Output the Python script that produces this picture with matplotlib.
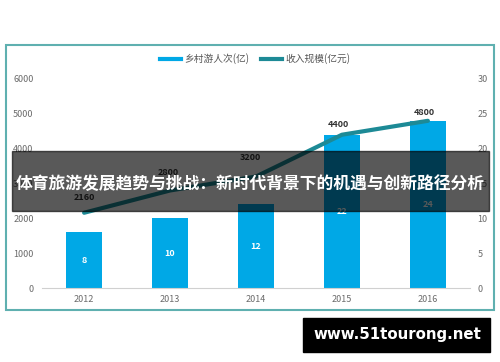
import matplotlib
matplotlib.use("Agg")
import matplotlib.pyplot as plt
from matplotlib.patches import Rectangle
from matplotlib.lines import Line2D

plt.rcParams['font.family'] = ['Noto Sans CJK SC', 'DejaVu Sans']

years = ["2012", "2013", "2014", "2015", "2016"]
visits = [8, 10, 12, 22, 24]              # 乡村游人次(亿) - right axis
income = [2160, 2800, 3200, 4400, 4800]   # 收入规模(亿元) - left axis

bar_color = "#00a8e6"
line_color = "#1d8a96"
tick_color = "#6b6b6b"

fig = plt.figure(figsize=(5, 3.62), dpi=100)
W, H = 500, 362

# chart frame
fig.patches.append(Rectangle((6 / W, 1 - 310 / H), 488 / W, 265 / H,
                             transform=fig.transFigure, fill=False,
                             edgecolor="#5fb0b0", lw=1.5))

ax = fig.add_axes([42 / W, 1 - 288 / H, 428 / W, 209 / H])
ax2 = ax.twinx()
x = list(range(len(years)))

ax2.bar(x, visits, width=0.41, color=bar_color, zorder=2)
for xi, v in zip(x, visits):
    ax2.text(xi, v / 2, str(v), ha="center", va="center", color="white",
             fontsize=6.5, fontweight="bold")
ax2.set_ylim(0, 30)
ax2.set_yticks([0, 5, 10, 15, 20, 25, 30])

ax.set_zorder(ax2.get_zorder() + 1)
ax.patch.set_visible(False)
ax.plot(x, income, color=line_color, lw=3, solid_capstyle="round", zorder=3)
offsets = [(0, 11), (-2, 13), (-6, 15), (-4, 6), (-4, 4)]
for xi, v, off in zip(x, income, offsets):
    ax.annotate(str(v), (xi, v), xytext=off, textcoords="offset pixels",
                ha="center", va="bottom", fontsize=6.5, fontweight="bold",
                color="#333333")
ax.set_ylim(0, 6000)
ax.set_yticks(range(0, 7000, 1000))
ax.set_xlim(-0.49, 4.49)
ax.set_xticks(x)
ax.set_xticklabels(years)

for a in (ax, ax2):
    for s in a.spines.values():
        s.set_visible(False)
    a.tick_params(length=0, labelsize=6.5, colors=tick_color)
ax.spines["bottom"].set_visible(True)
ax.spines["bottom"].set_color("#d0d0d0")
ax.tick_params(axis="y", pad=6)
ax.tick_params(axis="x", pad=5)
ax2.tick_params(axis="y", pad=5.5)

handles = [Line2D([0], [0], color=bar_color, lw=3),
           Line2D([0], [0], color=line_color, lw=3)]
fig.legend(handles, ["乡村游人次(亿)", "收入规模(亿元)"], loc="center",
           bbox_to_anchor=(255 / W, 1 - 59 / H), ncol=2, frameon=False,
           fontsize=7, handlelength=2.2, handletextpad=0.3,
           columnspacing=1.2, labelcolor="#555555")

# title banner
fig.patches.append(Rectangle((12 / W, 1 - 211 / H), 477 / W, 60 / H,
                             transform=fig.transFigure, color="black",
                             alpha=0.65, zorder=10))
fig.text(250 / W, 1 - 184 / H, "体育旅游发展趋势与挑战：新时代背景下的机遇与创新路径分析",
         ha="center", va="center", color="white", fontsize=12.1,
         fontweight="bold", zorder=11)

# watermark
fig.patches.append(Rectangle((303 / W, 1 - 352 / H), 187 / W, 34 / H,
                             transform=fig.transFigure, color="black",
                             zorder=10))
fig.text(397 / W, 1 - 335 / H, "www.51tourong.net", ha="center", va="center",
         color="white", fontsize=10.8, fontweight="bold", zorder=11,
         family=["DejaVu Sans"])

fig.savefig("out.png", dpi=100)
